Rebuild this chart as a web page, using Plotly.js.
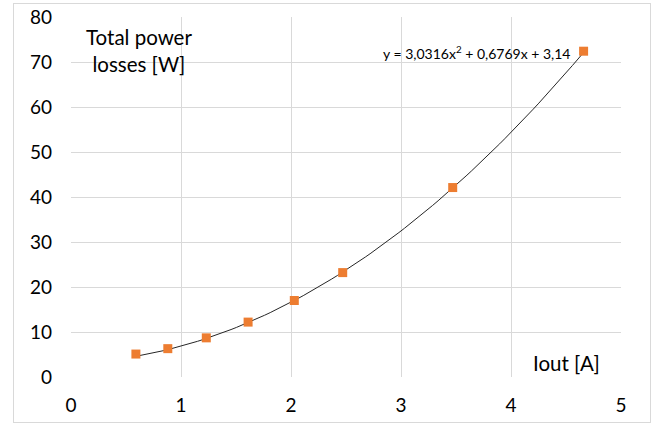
<!DOCTYPE html>
<html>
<head>
<meta charset="utf-8">
<script src="https://cdn.plot.ly/plotly-3.0.1.min.js"></script>
<style>
  html, body { margin: 0; padding: 0; background: #ffffff; }
  #wrap { position: relative; width: 658px; height: 424px; }
  #chart { width: 658px; height: 424px; }
  #frame { position: absolute; left: 13px; top: 3px; width: 636px; height: 418px;
           border: 1px solid #d9d9d9; pointer-events: none; }
</style>
</head>
<body>
<div id="wrap">
  <div id="chart"></div>
  <div id="frame"></div>
</div>
<script>
const currentA = [0.59, 0.88, 1.23, 1.61, 2.03, 2.47, 3.47, 4.66];
const lossesW  = [5.1, 6.3, 8.7, 12.2, 17.0, 23.2, 42.1, 72.4];

// Trendline coefficients shown on the chart: y = a x^2 + b x + c
const trendCoef = [3.0316, 0.6769, 3.14];

const xTicks = [0, 1, 2, 3, 4, 5];
const yTicks = [0, 10, 20, 30, 40, 50, 60, 70, 80];

// Trendline evaluated from the displayed polynomial across the data range
const xMin = Math.min(...currentA), xMax = Math.max(...currentA);
const trendX = [], trendY = [];
const nSteps = 80;
for (let i = 0; i <= nSteps; i++) {
  const x = xMin + (xMax - xMin) * i / nSteps;
  trendX.push(x);
  trendY.push(trendCoef[0] * x * x + trendCoef[1] * x + trendCoef[2]);
}

const font = "Lato, 'Open Sans', sans-serif";

const traces = [
  {
    x: trendX, y: trendY, type: 'scatter', mode: 'lines',
    line: { color: '#262626', width: 1 }, hoverinfo: 'skip', showlegend: false
  },
  {
    x: currentA, y: lossesW, type: 'scatter', mode: 'markers',
    marker: { symbol: 'square', size: 9, color: '#ED7D31' }, showlegend: false
  }
];

const layout = {
  width: 658, height: 424,
  margin: { l: 71, r: 37, t: 17, b: 47, pad: 0 },
  paper_bgcolor: '#ffffff', plot_bgcolor: '#ffffff',
  font: { family: font, color: '#000000', size: 19 },
  xaxis: {
    range: [0, 5], tickvals: xTicks, ticktext: xTicks.map(String),
    showgrid: true, gridcolor: '#d9d9d9', gridwidth: 1,
    zeroline: false, showline: false, ticks: '',
    ticklabelstandoff: 15, fixedrange: true,
    tickfont: { family: font, size: 19, color: '#000000' }
  },
  yaxis: {
    range: [0, 80], tickvals: yTicks, ticktext: yTicks.map(String),
    showgrid: true, gridcolor: '#d9d9d9', gridwidth: 1,
    zeroline: false, showline: false, ticks: '',
    ticklabelstandoff: 18, fixedrange: true,
    tickfont: { family: font, size: 19, color: '#000000' }
  },
  annotations: [
    {
      text: 'Total power<br>losses [W]', xref: 'paper', yref: 'paper',
      x: (139 - 71) / 550, y: (377 - 50) / 360, xanchor: 'center', yanchor: 'middle',
      align: 'center', showarrow: false,
      font: { family: font, size: 20.5, color: '#000000' }
    },
    {
      text: 'Iout [A]', xref: 'paper', yref: 'paper',
      x: (602 - 71) / 550, y: (377 - 363) / 360, xanchor: 'right', yanchor: 'middle',
      showarrow: false,
      font: { family: font, size: 20.5, color: '#000000' }
    },
    {
      text: 'y = 3,0316x<sup>2</sup> + 0,6769x + 3,14', xref: 'paper', yref: 'paper',
      x: (381 - 71) / 550, y: (377 - 53) / 360, xanchor: 'left', yanchor: 'middle',
      showarrow: false,
      font: { family: font, size: 14, color: '#000000' }
    }
  ]
};

Plotly.newPlot('chart', traces, layout, { displayModeBar: false, staticPlot: true });
</script>
</body>
</html>
